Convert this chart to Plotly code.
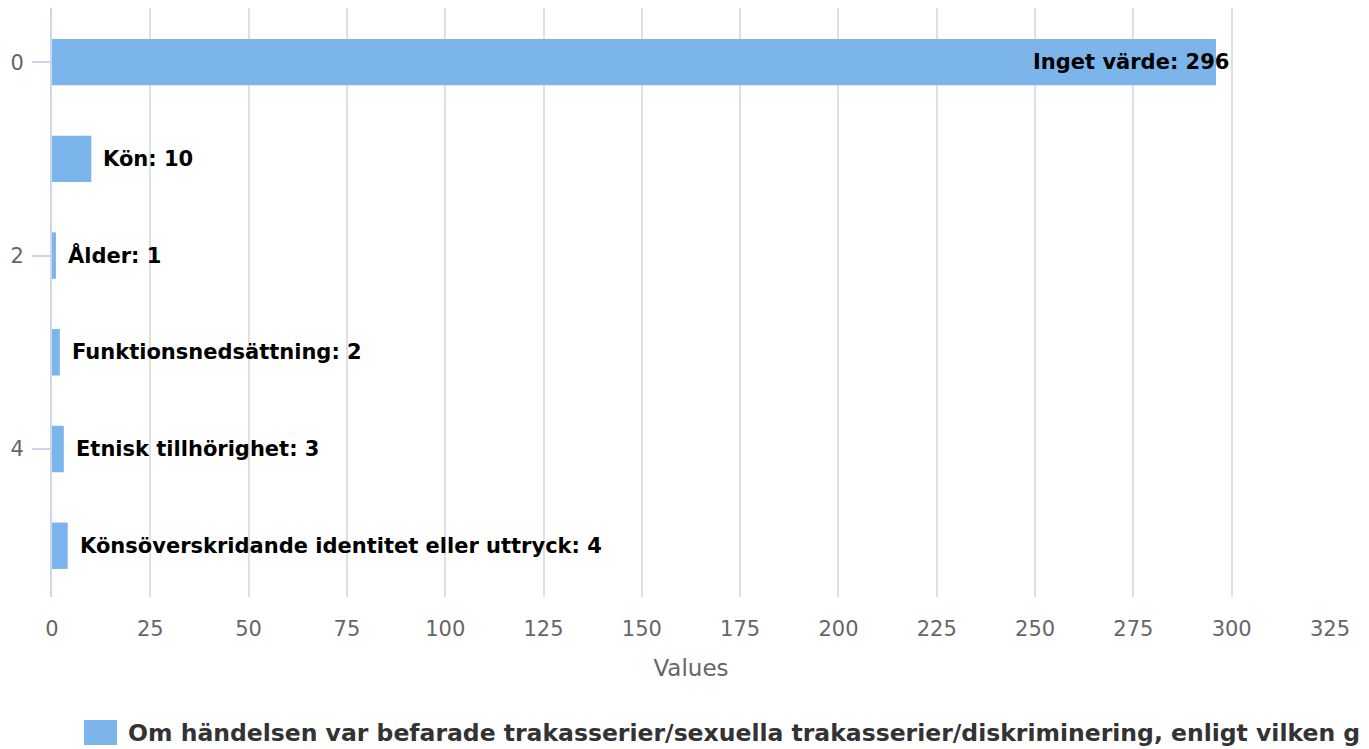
import plotly.graph_objects as go

categories = ["Inget värde", "Kön", "Ålder", "Funktionsnedsättning",
              "Etnisk tillhörighet", "Könsöverskridande identitet eller uttryck"]
values = [296, 10, 1, 2, 3, 4]
positions = [0, 1, 2, 3, 4, 5]
y_tick_vals = [0, 2, 4]
x_tick_step = 25
legend_text = ("Om händelsen var befarade trakasserier/sexuella trakasserier/diskriminering, "
               "enligt vilken grund")

BAR = "#7cb5ec"
FONT = "DejaVu Sans"

fig = go.Figure()
fig.add_trace(go.Bar(
    y=positions, x=values, orientation="h",
    marker=dict(color=BAR, line=dict(width=0)),
    width=0.48, showlegend=False, hoverinfo="x+y",
))

anns = []
for c, v, p in zip(categories, values, positions):
    if v > 100:
        anns.append(dict(x=v, y=p, xref="x", yref="y", text=f"<b>{c}: {v}</b>",
                         showarrow=False, xanchor="right", yanchor="middle",
                         xshift=15, font=dict(family=FONT, size=21, color="#000000")))
    else:
        anns.append(dict(x=v, y=p, xref="x", yref="y", text=f"<b>{c}: {v}</b>",
                         showarrow=False, xanchor="left", yanchor="middle",
                         xshift=10, font=dict(family=FONT, size=21, color="#000000")))

# manual legend (Highcharts-like large swatch); page pixel -> paper coords
W, H = 1278, 589
def px(xp):
    return (xp - 52) / W
def py(yp):
    return (597 - yp) / H

anns.append(dict(x=px(126), y=py(733), xref="paper", yref="paper",
                 text=f"<b>{legend_text}</b>", showarrow=False,
                 xanchor="left", yanchor="middle",
                 font=dict(family=FONT, size=23.5, color="#333333")))

shapes = [dict(type="rect", xref="paper", yref="paper",
               x0=px(84), x1=px(117), y0=py(745), y1=py(720),
               fillcolor=BAR, line=dict(width=0))]

fig.update_layout(
    width=1369, height=749,
    margin=dict(l=44, r=47, t=0, b=160, autoexpand=False),
    paper_bgcolor="white", plot_bgcolor="white",
    font=dict(family=FONT, color="#666666"),
    annotations=anns, shapes=shapes,
    xaxis=dict(
        range=[0, 325], dtick=x_tick_step, tick0=0,
        showgrid=True, gridcolor="#e0e0e0", gridwidth=2,
        zeroline=False, showline=False,
        ticks="", ticklabelstandoff=17,
        tickfont=dict(family=FONT, size=21, color="#666666"),
        title=dict(text="Values", font=dict(family=FONT, size=23, color="#666666"), standoff=19),
        automargin=False,
    ),
    yaxis=dict(
        range=[5.53, -0.56], tickvals=y_tick_vals,
        showgrid=False, zeroline=False,
        showline=True, linecolor="#ccd6eb", linewidth=2,
        ticks="outside", ticklen=18, tickwidth=2, tickcolor="#ccd6eb",
        ticklabelstandoff=4,
        tickfont=dict(family=FONT, size=21, color="#666666"),
        automargin=False,
    ),
)

fig.write_html("out.html")
